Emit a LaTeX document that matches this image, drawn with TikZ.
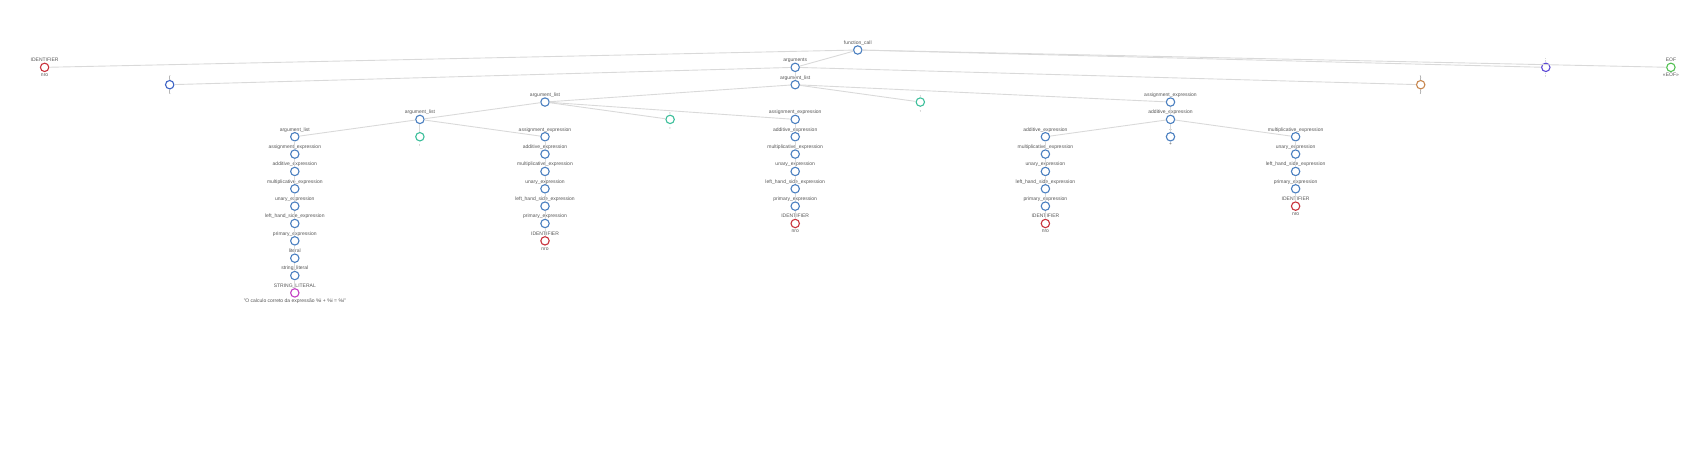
\documentclass[tikz,border=0pt]{standalone}
\usepackage{fontspec}
\setmainfont{Liberation Sans}
\definecolor{ntc}{HTML}{4A7FC0}
\definecolor{idc}{HTML}{C9333D}
\definecolor{comc}{HTML}{3DBF9B}
\definecolor{semc}{HTML}{5B48D5}
\definecolor{rpc}{HTML}{C8874F}
\definecolor{lpc}{HTML}{3D63C5}
\definecolor{eofc}{HTML}{52C152}
\definecolor{strc}{HTML}{C43FC4}
\definecolor{edgec}{HTML}{D9D9D9}
\definecolor{labc}{HTML}{555555}
\tikzset{
  tn/.style={circle, draw=#1, line width=1.1pt, fill=white, minimum size=8.4pt, inner sep=0pt},
  lab/.style={font=\fontsize{5}{6}\selectfont, text=labc, inner sep=0.6pt},
  labup/.style={lab, text depth=0.9pt, label distance=-0.8pt},
  labdn/.style={lab, text height=3.7pt, label distance=0pt}
}
\tikzset{conn/.style={draw=edgec, line width=0.9pt}}
\newcommand\tnode[6]{%
  \node[tn=#1, label={[labup]above:{#5}}, label={[labdn]below:{#6}}] (#2) at ({44.6+125.1*#3},{50+17.35*#4}) {};}
\begin{document}
\begin{tikzpicture}[x=1pt,y=-1pt]
\useasboundingbox (0,0) rectangle (1706,457);
% top levels
\tnode{ntc}{fc}{6.5}{0}{function\_call}{}
\tnode{idc}{idA}{0}{1}{IDENTIFIER}{nro}
\tnode{ntc}{args}{6}{1}{arguments}{}
\tnode{semc}{semi}{12}{1}{;}{;}
\tnode{eofc}{eof}{13}{1}{EOF}{\textless\textless EOF\textgreater\textgreater}
\tnode{lpc}{lp}{1}{2}{(}{(}
\tnode{ntc}{alA}{6}{2}{argument\_list}{}
\tnode{rpc}{rp}{11}{2}{)}{)}
\tnode{ntc}{alB}{4}{3}{argument\_list}{}
\tnode{comc}{cA}{7}{3}{,}{,}
\tnode{ntc}{aeA}{9}{3}{assignment\_expression}{}
\tnode{ntc}{alC}{3}{4}{argument\_list}{}
\tnode{comc}{cB}{5}{4}{,}{,}
\tnode{ntc}{aeB}{6}{4}{assignment\_expression}{}
\tnode{ntc}{addA}{9}{4}{additive\_expression}{}
\tnode{ntc}{alD}{2}{5}{argument\_list}{}
\tnode{comc}{cC}{3}{5}{,}{,}
\tnode{ntc}{aeC}{4}{5}{assignment\_expression}{}
% chain under aeB (col 6)
\tnode{ntc}{b1}{6}{5}{additive\_expression}{}
\tnode{ntc}{b2}{6}{6}{multiplicative\_expression}{}
\tnode{ntc}{b3}{6}{7}{unary\_expression}{}
\tnode{ntc}{b4}{6}{8}{left\_hand\_side\_expression}{}
\tnode{ntc}{b5}{6}{9}{primary\_expression}{}
\tnode{idc}{b6}{6}{10}{IDENTIFIER}{nro}
% children of addA
\tnode{ntc}{d0}{8}{5}{additive\_expression}{}
\tnode{ntc}{plus}{9}{5}{+}{+}
\tnode{ntc}{e0}{10}{5}{multiplicative\_expression}{}
\tnode{ntc}{d1}{8}{6}{multiplicative\_expression}{}
\tnode{ntc}{d2}{8}{7}{unary\_expression}{}
\tnode{ntc}{d3}{8}{8}{left\_hand\_side\_expression}{}
\tnode{ntc}{d4}{8}{9}{primary\_expression}{}
\tnode{idc}{d5}{8}{10}{IDENTIFIER}{nro}
\tnode{ntc}{e1}{10}{6}{unary\_expression}{}
\tnode{ntc}{e2}{10}{7}{left\_hand\_side\_expression}{}
\tnode{ntc}{e3}{10}{8}{primary\_expression}{}
\tnode{idc}{e4}{10}{9}{IDENTIFIER}{nro}
% chain under alD (col 2)
\tnode{ntc}{a1}{2}{6}{assignment\_expression}{}
\tnode{ntc}{a2}{2}{7}{additive\_expression}{}
\tnode{ntc}{a3}{2}{8}{multiplicative\_expression}{}
\tnode{ntc}{a4}{2}{9}{unary\_expression}{}
\tnode{ntc}{a5}{2}{10}{left\_hand\_side\_expression}{}
\tnode{ntc}{a6}{2}{11}{primary\_expression}{}
\tnode{ntc}{a7}{2}{12}{literal}{}
\tnode{ntc}{a8}{2}{13}{string\_literal}{}
\tnode{strc}{a9}{2}{14}{STRING\_LITERAL}{"O calculo correto da expressão \%i + \%i = \%i"}
% chain under aeC (col 4)
\tnode{ntc}{c1}{4}{6}{additive\_expression}{}
\tnode{ntc}{c2}{4}{7}{multiplicative\_expression}{}
\tnode{ntc}{c3}{4}{8}{unary\_expression}{}
\tnode{ntc}{c4}{4}{9}{left\_hand\_side\_expression}{}
\tnode{ntc}{c5}{4}{10}{primary\_expression}{}
\tnode{idc}{c6}{4}{11}{IDENTIFIER}{nro}
% edges
\foreach \p/\q in {fc/idA, fc/args, fc/semi, fc/eof,
  args/lp, args/alA, args/rp,
  alA/alB, alA/cA, alA/aeA,
  alB/alC, alB/cB, alB/aeB,
  alC/alD, alC/cC, alC/aeC,
  aeA/addA, addA/d0, addA/plus, addA/e0,
  aeB/b1, b1/b2, b2/b3, b3/b4, b4/b5, b5/b6,
  d0/d1, d1/d2, d2/d3, d3/d4, d4/d5,
  e0/e1, e1/e2, e2/e3, e3/e4,
  alD/a1, a1/a2, a2/a3, a3/a4, a4/a5, a5/a6, a6/a7, a7/a8, a8/a9,
  aeC/c1, c1/c2, c2/c3, c3/c4, c4/c5, c5/c6}
  \draw[conn] (\p) -- (\q);
\end{tikzpicture}
\end{document}
